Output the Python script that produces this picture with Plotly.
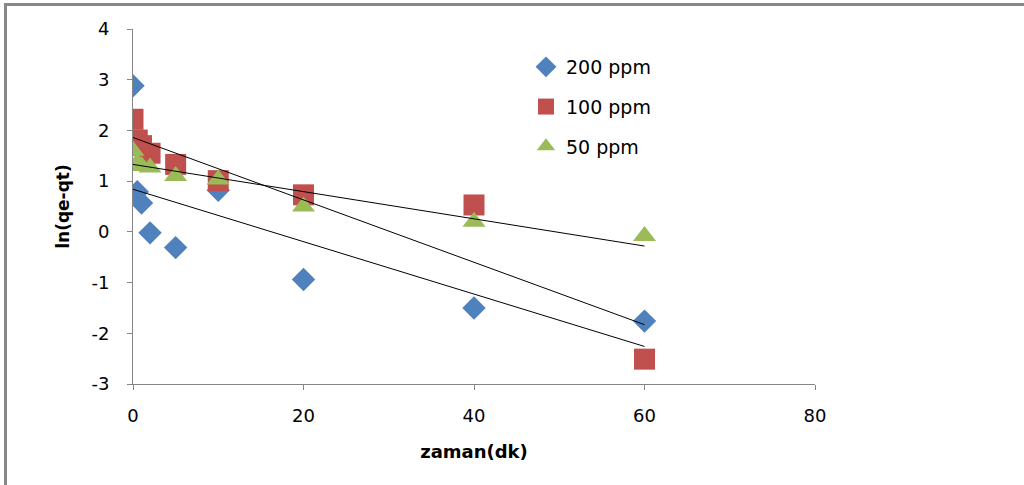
import plotly.graph_objects as go

# ---- data ----
time_min = [0, 0.5, 1, 2, 5, 10, 20, 40, 60]
ppm200 = [2.88, 0.79, 0.57, -0.02, -0.31, 0.82, -0.94, -1.50, -1.76]
ppm100 = [2.22, 1.81, 1.70, 1.55, 1.33, 1.01, 0.73, 0.53, -2.51]
ppm50 = [1.60, 1.36, 1.30, 1.27, 1.10, 1.03, 0.50, 0.20, -0.08]

series_names = ["200 ppm", "100 ppm", "50 ppm"]
trend_x = [0, 60]
trend_200 = [0.84, -2.26]
trend_100 = [1.86, -1.83]
trend_50 = [1.33, -0.28]

x_ticks = [0, 20, 40, 60, 80]
y_ticks = [-3, -2, -1, 0, 1, 2, 3, 4]

# ---- styling ----
colors = ["#4F81BD", "#C0504D", "#9BBB59"]
symbols = ["diamond", "square", "triangle-up"]
sizes = [18, 21, 20]
axis_col = "#868686"
W, H = 1024, 485
ml, mr, mt, mb = 133, 209, 29, 101
pw, ph = W - ml - mr, H - mt - mb

fig = go.Figure()
for i, ys in enumerate([ppm200, ppm100, ppm50]):
    fig.add_trace(go.Scatter(
        x=time_min, y=ys, mode="markers", name=series_names[i],
        legendgroup=f"g{i}",
        marker=dict(symbol=symbols[i], size=sizes[i], color=colors[i],
                    line=dict(width=0)),
    ))

for tr in [trend_200, trend_100, trend_50]:
    fig.add_trace(go.Scatter(
        x=trend_x, y=tr, mode="lines", showlegend=False,
        line=dict(color="#000000", width=1), hoverinfo="skip",
    ))

axis_common = dict(
    showline=True, linecolor=axis_col, linewidth=1,
    ticks="outside", ticklen=5, tickcolor=axis_col, tickwidth=1,
    showgrid=False, zeroline=False,
    tickfont=dict(family="DejaVu Sans", size=18, color="#000000"),
)

fig.update_layout(
    width=W, height=H,
    margin=dict(l=ml, r=mr, t=mt, b=mb, pad=0),
    paper_bgcolor="#FFFFFF", plot_bgcolor="#FFFFFF",
    xaxis=dict(range=[0, 80], tickvals=x_ticks, ticktext=[str(v) for v in x_ticks],
               ticklabelstandoff=10,
               title=dict(text="<b>zaman(dk)</b>", standoff=20,
                          font=dict(family="DejaVu Sans", size=18, color="#000000")),
               **axis_common),
    yaxis=dict(range=[-3, 4], tickvals=y_ticks, ticktext=[str(v) for v in y_ticks],
               ticklabelstandoff=14,
               title=dict(text="<b>ln(qe-qt)</b>", standoff=17,
                          font=dict(family="DejaVu Sans", size=17, color="#000000")),
               **axis_common),
    legend=dict(x=(526 - ml) / pw, y=1 - (48 - mt) / ph, xanchor="left", yanchor="top",
                font=dict(family="DejaVu Sans", size=19, color="#000000"),
                bgcolor="rgba(0,0,0,0)", tracegroupgap=12, itemsizing="trace"),
    showlegend=True,
    shapes=[
        dict(type="line", xref="paper", yref="paper",
             x0=(5.5 - ml) / pw, x1=(W - ml) / pw,
             y0=1 + (mt - 4.5) / ph, y1=1 + (mt - 4.5) / ph,
             line=dict(color="#888888", width=3)),
        dict(type="line", xref="paper", yref="paper",
             x0=(5.5 - ml) / pw, x1=(5.5 - ml) / pw,
             y0=1 + (mt - 3) / ph, y1=-(mb) / ph,
             line=dict(color="#888888", width=3)),
    ],
)

fig.write_html("out.html", config={"displayModeBar": False},
               post_script="document.body.style.margin='0px';")
